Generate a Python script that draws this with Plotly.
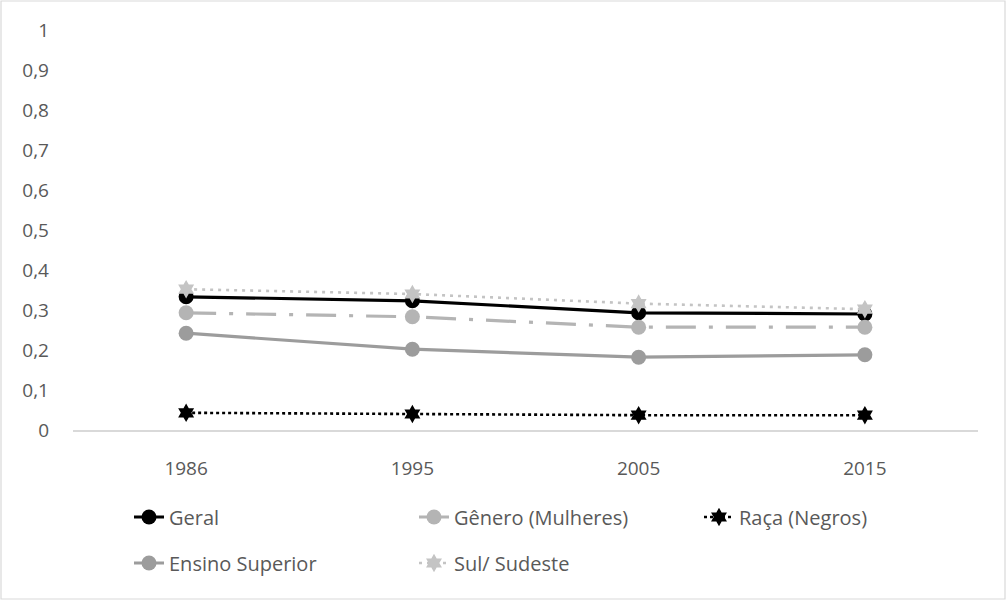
import plotly.graph_objects as go

years = ["1986", "1995", "2005", "2015"]
geral = [0.333, 0.323, 0.293, 0.290]
genero = [0.293, 0.283, 0.257, 0.257]
raca = [0.043, 0.040, 0.037, 0.037]
ensino = [0.242, 0.202, 0.182, 0.188]
sul = [0.352, 0.340, 0.316, 0.302]
yticks = [0, 0.1, 0.2, 0.3, 0.4, 0.5, 0.6, 0.7, 0.8, 0.9, 1]

FONT = "Open Sans"
TXT = "#595959"

fig = go.Figure()
fig.add_trace(go.Scatter(x=years, y=geral, name="Geral", mode="lines+markers",
                         line=dict(color="#000000", width=3.2),
                         marker=dict(symbol="circle", size=15, color="#000000"),
                         legend="legend"))
fig.add_trace(go.Scatter(x=years, y=genero, name="Gênero (Mulheres)", mode="lines+markers",
                         line=dict(color="#b4b4b4", width=3.2, dash="30px,13px,4px,13px"),
                         marker=dict(symbol="circle", size=15, color="#b4b4b4"),
                         legend="legend"))
fig.add_trace(go.Scatter(x=years, y=raca, name="Raça (Negros)", mode="lines+markers",
                         line=dict(color="#000000", width=2.6, dash="3px,3px"),
                         marker=dict(symbol="hexagram", size=14, color="#000000"),
                         legend="legend"))
fig.add_trace(go.Scatter(x=years, y=ensino, name="Ensino Superior", mode="lines+markers",
                         line=dict(color="#9c9c9c", width=3.2),
                         marker=dict(symbol="circle", size=15, color="#9c9c9c"),
                         legend="legend2"))
fig.add_trace(go.Scatter(x=years, y=sul, name="Sul/ Sudeste", mode="lines+markers",
                         line=dict(color="#c4c4c4", width=2.6, dash="3px,5px"),
                         marker=dict(symbol="hexagram", size=14, color="#c4c4c4"),
                         legend="legend2"))

L, R, T, B = 73, 28, 30, 170
W, H = 1006, 600
pw, ph = W - L - R, H - T - B
leg_x = (129 - L) / pw

fig.update_layout(
    width=W, height=H,
    margin=dict(l=L, r=R, t=T, b=B),
    paper_bgcolor="white", plot_bgcolor="white",
    separators=", ",
    font=dict(family=FONT, color=TXT, size=19),
    xaxis=dict(type="category", range=[-0.5, 3.5], showgrid=False, zeroline=False,
               showline=True, linecolor="#d9d9d9", linewidth=1.5,
               ticks="", ticklabelstandoff=20, tickfont=dict(size=19, color=TXT)),
    yaxis=dict(range=[0, 1], tickvals=yticks, tickformat="~g", showgrid=False,
               zeroline=False, showline=False, ticks="", ticklabelstandoff=23,
               tickfont=dict(size=19, color=TXT)),
    legend=dict(orientation="h", x=leg_x, xanchor="left", y=(430 - 517) / ph, yanchor="middle",
                entrywidth=240, font=dict(size=20, color=TXT), bgcolor="rgba(0,0,0,0)"),
    legend2=dict(orientation="h", x=leg_x, xanchor="left", y=(430 - 563) / ph, yanchor="middle",
                 entrywidth=240, font=dict(size=20, color=TXT), bgcolor="rgba(0,0,0,0)"),
    shapes=[dict(type="rect", xref="paper", yref="paper",
                 x0=(1 - L) / pw, x1=(W - 1 - L) / pw,
                 y0=(430 - (H - 1)) / ph, y1=(430 - 1) / ph,
                 line=dict(color="#d9d9d9", width=1.2), fillcolor="rgba(0,0,0,0)", layer="below")],
)

fig.write_html("out.html", config={"displayModeBar": False},
               post_script="document.body.style.margin='0';")
